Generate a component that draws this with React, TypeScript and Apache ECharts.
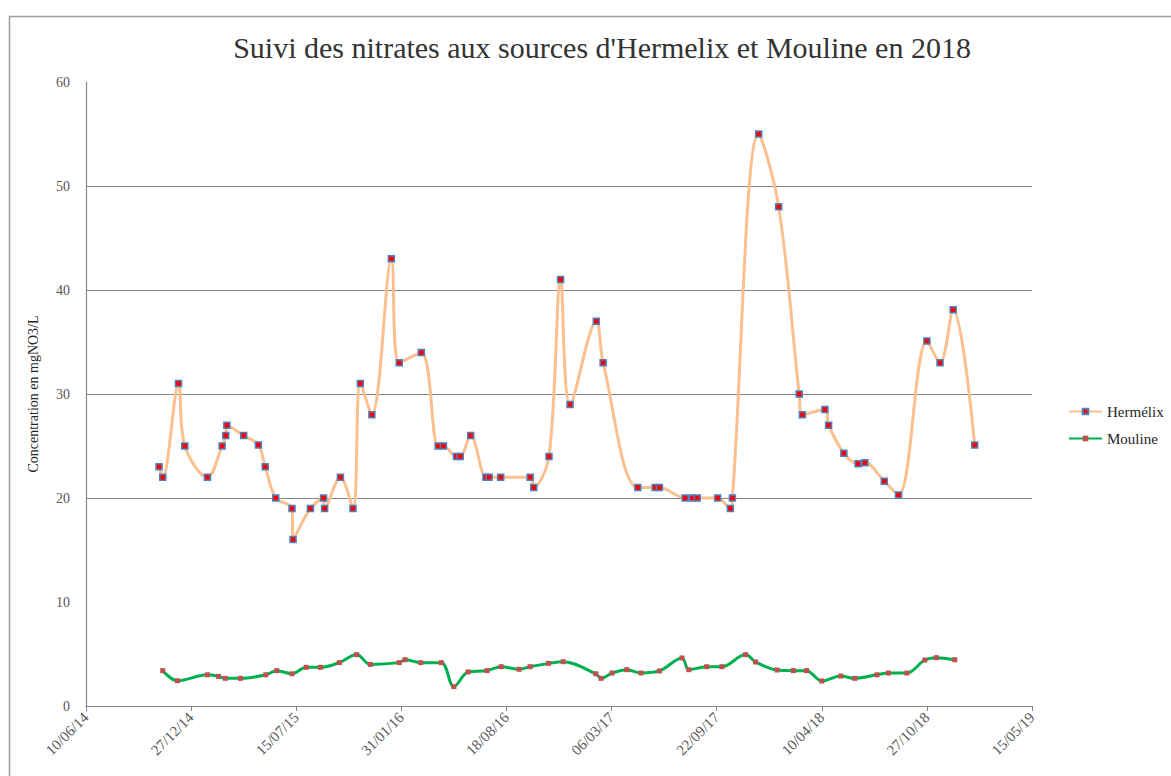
import React, { useEffect, useRef } from "react";
import * as echarts from "echarts";

const titleText = "Suivi des nitrates aux sources d'Hermelix et Mouline en 2018";
const yAxisName = "Concentration en mgNO3/L";
const seriesNames = ["Hermélix", "Mouline"];

const hermelixDates = [
  "2014-10-27", "2014-11-03", "2014-12-03", "2014-12-15", "2015-01-27", "2015-02-24",
  "2015-03-03", "2015-03-05", "2015-04-06", "2015-05-04", "2015-05-17", "2015-06-06",
  "2015-07-07", "2015-07-09", "2015-08-11", "2015-09-05", "2015-09-07", "2015-10-07",
  "2015-10-31", "2015-11-14", "2015-12-06", "2016-01-12", "2016-01-27", "2016-03-09",
  "2016-04-10", "2016-04-20", "2016-05-15", "2016-05-22", "2016-06-11", "2016-07-10",
  "2016-07-16", "2016-08-07", "2016-10-02", "2016-10-09", "2016-11-07", "2016-11-29",
  "2016-12-17", "2017-02-05", "2017-02-18", "2017-04-25", "2017-05-28", "2017-06-05",
  "2017-07-24", "2017-08-07", "2017-08-16", "2017-09-24", "2017-10-18", "2017-10-22",
  "2017-12-11", "2018-01-18", "2018-02-26", "2018-03-04", "2018-04-16", "2018-04-23",
  "2018-05-22", "2018-06-18", "2018-07-01", "2018-08-07", "2018-09-03", "2018-10-27",
  "2018-11-21", "2018-12-16", "2019-01-26",
];
const hermelixValues = [
  23, 22, 31, 25, 22, 25,
  26, 27, 26, 25.1, 23, 20,
  19, 16, 19, 20, 19, 22,
  19, 31, 28, 43, 33, 34,
  25, 25, 24, 24, 26, 22,
  22, 22, 22, 21, 24, 41,
  29, 37, 33, 21, 21, 21,
  20, 20, 20, 20, 19, 20,
  55, 48, 30, 28, 28.5, 27,
  24.3, 23.3, 23.4, 21.6, 20.3, 35.1,
  33, 38.1, 25.1,
];

const moulineDates = [
  "2014-11-03", "2014-12-01", "2015-01-27", "2015-02-17", "2015-03-02", "2015-03-31",
  "2015-05-18", "2015-06-08", "2015-07-07", "2015-08-03", "2015-08-30", "2015-10-05",
  "2015-11-07", "2015-12-03", "2016-01-27", "2016-02-07", "2016-03-08", "2016-04-16",
  "2016-05-10", "2016-06-06", "2016-07-12", "2016-08-08", "2016-09-11", "2016-10-02",
  "2016-11-06", "2016-12-04", "2017-02-04", "2017-02-14", "2017-03-07", "2017-04-04",
  "2017-05-01", "2017-06-05", "2017-07-18", "2017-07-31", "2017-09-03", "2017-10-02",
  "2017-11-16", "2017-12-05", "2018-01-15", "2018-02-15", "2018-03-12", "2018-04-10",
  "2018-05-16", "2018-06-12", "2018-07-24", "2018-08-15", "2018-09-19", "2018-10-23",
  "2018-11-14", "2018-12-19",
];
const moulineValues = [
  3.4, 2.43, 3.0, 2.85, 2.66, 2.66,
  3.0, 3.4, 3.1, 3.72, 3.72, 4.17,
  4.94, 4.0, 4.17, 4.45, 4.17, 4.17,
  1.86, 3.27, 3.4, 3.78, 3.53, 3.78,
  4.1, 4.26, 3.1, 2.66, 3.17, 3.49,
  3.17, 3.37, 4.62, 3.49, 3.78, 3.78,
  4.94, 4.23, 3.46, 3.4, 3.4, 2.4,
  2.88, 2.66, 3.0, 3.17, 3.17, 4.42,
  4.65, 4.45,
];

const xStart = "2014-06-10";
const xSpanDays = 1800;
const xIntervalDays = 200;
const yTicks = [0, 10, 20, 30, 40, 50, 60];

const DAY = 86400000;
const toTime = (s: string) => {
  const [y, m, d] = s.split("-").map(Number);
  return Date.UTC(y, m - 1, d);
};
const pad = (n: number) => (n < 10 ? "0" + n : "" + n);
const fmtDate = (t: number) => {
  const d = new Date(t);
  return pad(d.getUTCDate()) + "/" + pad(d.getUTCMonth() + 1) + "/" + pad(d.getUTCFullYear() % 100);
};

export default function App() {
  const ref = useRef<HTMLDivElement>(null);
  useEffect(() => {
    if (!ref.current) return;
    const chart = echarts.init(ref.current, undefined, { renderer: "svg" });
    const t0 = toTime(xStart);
    const dayOf = (s: string) => Math.round((toTime(s) - t0) / DAY);
    const hData = hermelixDates.map((d, i) => [dayOf(d), hermelixValues[i]]);
    const mData = moulineDates.map((d, i) => [dayOf(d), moulineValues[i]]);
    const serif = "'Liberation Serif', 'DejaVu Serif', serif";
    chart.setOption({
      animation: false,
      backgroundColor: "#ffffff",
      title: {
        text: titleText,
        left: 597,
        textAlign: "center",
        top: 27,
        textStyle: { fontFamily: serif, fontSize: 30, fontWeight: "normal", color: "#333333" },
      },
      graphic: [
        {
          type: "rect",
          shape: { x: 9.5, y: 16.5, width: 1300, height: 900 },
          style: { fill: "none", stroke: "#9a9a9a", lineWidth: 1.5 },
          silent: true,
        },
      ],
      legend: {
        orient: "vertical",
        left: 1063,
        top: 399,
        itemWidth: 33,
        itemHeight: 7,
        itemGap: 12,
        textStyle: { fontFamily: serif, fontSize: 15, color: "#262626" },
        data: seriesNames,
      },
      grid: { left: 86, right: 139, top: 82, bottom: 70, containLabel: false },
      xAxis: {
        type: "value",
        min: 0,
        max: xSpanDays,
        interval: xIntervalDays,
        axisLine: { show: true, lineStyle: { color: "#868686", width: 1.2 } },
        axisTick: { show: true, length: 5, lineStyle: { color: "#868686" } },
        splitLine: { show: false },
        axisLabel: {
          rotate: 45,
          margin: 9,
          fontFamily: serif,
          fontSize: 15,
          color: "#595959",
          hideOverlap: false,
          showMinLabel: true,
          showMaxLabel: true,
          formatter: (v: number) => fmtDate(t0 + v * DAY),
        },
      },
      yAxis: {
        type: "value",
        min: yTicks[0],
        max: yTicks[yTicks.length - 1],
        interval: 10,
        name: yAxisName,
        nameLocation: "middle",
        nameGap: 46,
        nameTextStyle: { fontFamily: serif, fontSize: 14, color: "#262626" },
        axisLine: { show: true, lineStyle: { color: "#868686", width: 1.2 } },
        axisTick: { show: false },
        axisLabel: { margin: 16, fontFamily: serif, fontSize: 14, color: "#595959" },
        splitLine: {
          show: true,
          lineStyle: {
            color: ["transparent", "transparent", "#868686", "#868686", "#868686", "#868686", "transparent"],
            width: 1.2,
          },
        },
      },
      series: [
        {
          name: seriesNames[0],
          type: "line",
          data: hData,
          smooth: 0.35,
          lineStyle: { color: "#FAC090", width: 3 },
          itemStyle: { color: "#FF0000", borderColor: "#4F81BD", borderWidth: 1.5 },
          symbol: "rect",
          symbolSize: 6,
          showAllSymbol: true,
          z: 3,
        },
        {
          name: seriesNames[1],
          type: "line",
          data: mData,
          smooth: 0.35,
          lineStyle: { color: "#00B050", width: 3 },
          itemStyle: { color: "#C0504D", borderWidth: 0 },
          symbol: "rect",
          symbolSize: 5,
          showAllSymbol: true,
          z: 2,
        },
      ],
    });
    return () => chart.dispose();
  }, []);
  return (
    <div
      ref={ref}
      style={{ position: "fixed", left: 0, top: 0, width: 1171, height: 776 }}
    />
  );
}
